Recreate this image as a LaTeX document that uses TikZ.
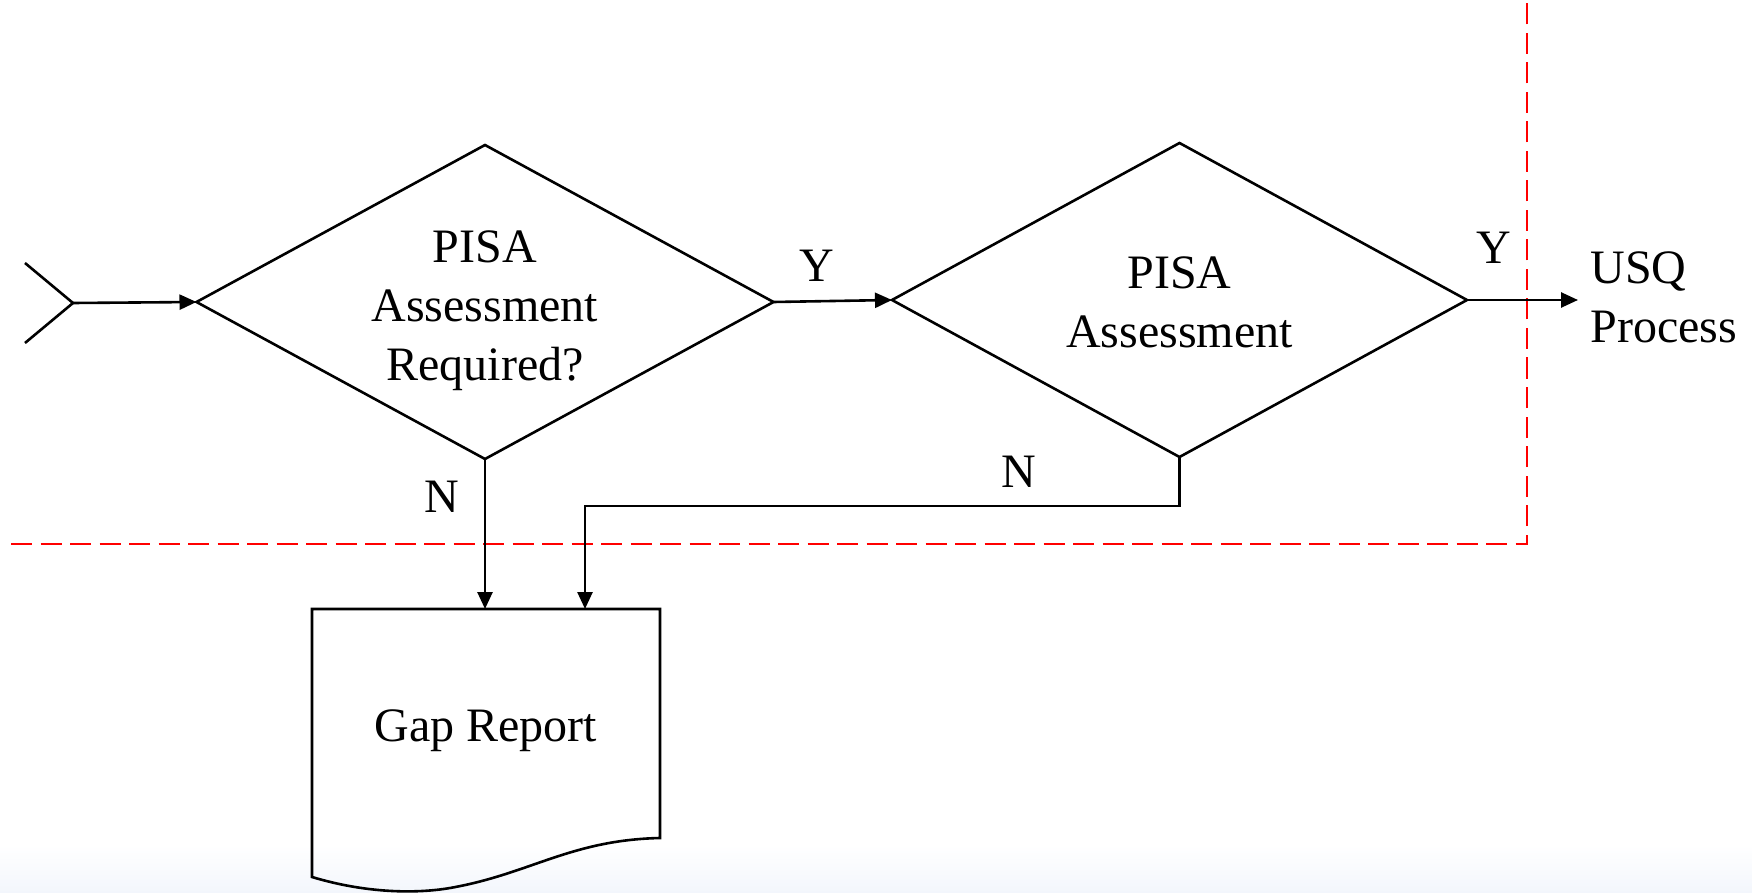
\documentclass[tikz,border=0pt]{standalone}
\usepackage{fontspec}
\setmainfont{Liberation Serif}
\usetikzlibrary{shapes.geometric,arrows.meta,calc}
\definecolor{dashred}{RGB}{255,0,0}
\definecolor{bottomtint}{RGB}{243,246,252}
\begin{document}
\begin{tikzpicture}[x=0.5pt,y=-0.5pt,
  every node/.style={font=\fontsize{24}{29.6}\selectfont},
  line/.style={line width=1.3pt, draw=black},
  arr/.style={line width=1.3pt, draw=black, -{Triangle[length=8.5pt,width=7.5pt]}},
  decision/.style={diamond, draw, line width=1.3pt, inner sep=0pt, outer sep=0pt, aspect=1.84},
  dtext/.style={align=center, inner sep=0pt},
  lbl/.style={inner sep=0pt},
  boundary/.style={draw=dashred, line width=1.4pt, dash pattern=on 10.5pt off 4.25pt}]
\useasboundingbox (0,0) rectangle (1752,893);
\shade[top color=white,bottom color=bottomtint] (0,845) rectangle (1752,893);

% boundary
\draw[boundary] (11,544) -- (1527,544) -- (1527,0);

% nodes
\node[decision, minimum width=288.5pt, minimum height=157pt,
  label={[dtext, yshift=-4.5pt]center:PISA\\Assessment\\Required?}] (d1) at (485,302) {};
\node[decision, minimum width=287.5pt, minimum height=157pt,
  label={[dtext, yshift=-1.2pt]center:PISA\\Assessment}] (d2) at (1179.5,300) {};
\node[inner sep=0pt, outer sep=0pt, minimum width=174pt, minimum height=121.5pt] (gap) at (486,730.5) {Gap Report};
\node[anchor=west, align=left, inner xsep=6pt, inner ysep=0pt] (usq) at (1578,297) {USQ\\Process};

\node[lbl] (y1) at (817,266) {Y};
\node[lbl] (y2) at (1494,248) {Y};
\node[lbl] (n1) at (442,497) {N};
\node[lbl] (n2) at (1019,472) {N};

% document shape
\draw[line, line join=miter] (gap.north west) -- (gap.north east) -- (660,838)
  .. controls (570,840) and (530,874) .. (450,888)
  .. controls (415,894) and (365,893) .. (312,877) -- cycle;

% entry
\coordinate (start) at (73,303);
\draw[line] (25,263) -- (start) -- (25,343);

% connectors
\draw[arr] (start) -- (d1.west);
\draw[arr] (d1.east) -- (d2.west);
\draw[arr] (d2.east) -- (d2.east -| usq.west);
\draw[arr] (d1.south) -- (d1.south |- gap.north);
\draw[arr] (d2.south) -- ++(0,49) -| ($(gap.north)+(99,0)$);
\end{tikzpicture}
\end{document}
